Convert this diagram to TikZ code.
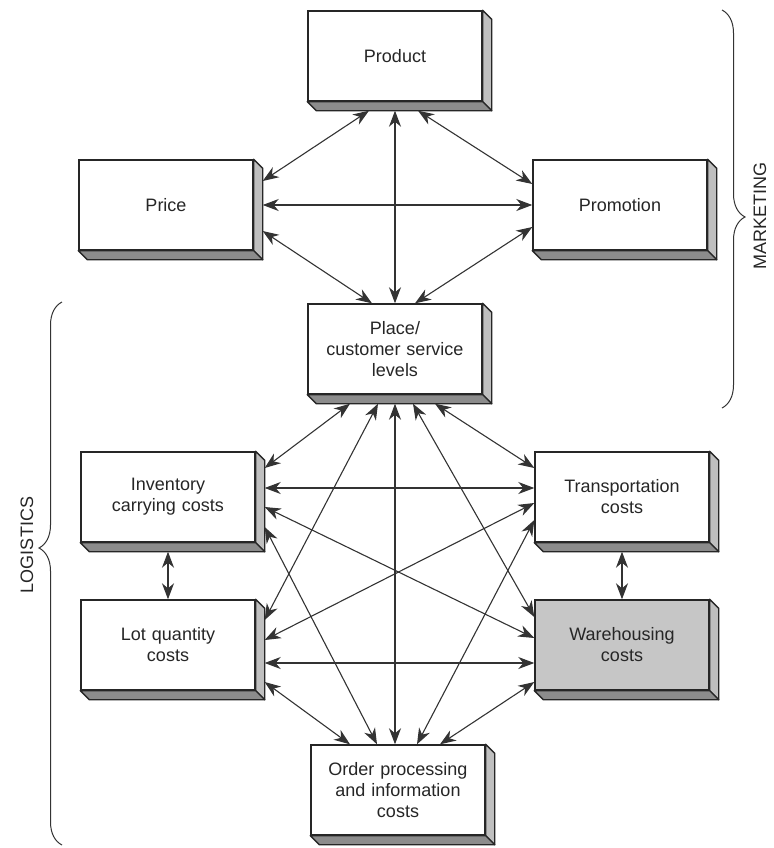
\documentclass[tikz,border=0pt]{standalone}
\usepackage{fontspec}
\setmainfont{Liberation Sans}
\usetikzlibrary{arrows.meta,positioning,calc,decorations.pathreplacing}
\tikzset{
    box/.style={rectangle, draw=black!85, fill=white, minimum width=87pt, minimum height=45pt, text width=80pt, text centered, inner sep=0pt, font=\fontsize{9}{10.5}\selectfont, text=black!85, line width=0.7pt},
    shadedbox/.style={box, fill=gray!45},
    sideface/.style={draw=black!85, fill=gray!50, line width=0.7pt, line join=round},
    bottomface/.style={draw=black!85, fill=gray!90, line width=0.7pt, line join=round},
    line/.style={draw=black!80, {Stealth[length=8pt,width=6pt,inset=2.5pt]}-{Stealth[length=8pt,width=6pt,inset=2.5pt]}, line width=0.55pt},
    bracket/.style={draw=black!80, line width=0.5pt, decorate, decoration={brace, amplitude=11.5pt, aspect=#1}},
    grouplabel/.style={font=\fontsize{9}{10}\selectfont, text=black!85, rotate=90}
}

\begin{document}
\begin{tikzpicture}[x=0.5pt, y=-0.5pt]
    \useasboundingbox (0,0) rectangle (774,848);

    % marketing mix
    \node [box] (product) at (395,56) {Product};
    \node [box] (price) at (166,205) {Price};
    \node [box] (promotion) at (620,205) {Promotion};
    \node [box] (place) at (395,349) {Place/\\customer service\\levels};

    % logistics costs
    \node [box] (inv) at (168,497) {Inventory\\carrying costs};
    \node [box, below of=inv, node distance=74pt] (lot) {Lot quantity\\costs};
    \node [box] (transport) at (622,497) {Transportation\\costs};
    \node [shadedbox, below of=transport, node distance=74pt] (ware) {Warehousing\\costs};
    \node [box] (order) at (398,790) {Order processing\\and information\\costs};

    \foreach \n in {product,price,promotion,place,inv,lot,transport,ware,order} {
        \path [sideface] (\n.north east) -- ++(9,9) -- ($(\n.south east)+(9,9)$) -- (\n.south east) -- cycle;
        \path [bottomface] (\n.south west) -- ++(9,9) -- ($(\n.south east)+(9,9)$) -- (\n.south east) -- cycle;
    }

    \path [line] ($(product.south)+(-26,9)$) -- ($(price.east)+(9,-24)$);
    \path [line] ($(product.south)+(0,9)$) -- (place.north);
    \path [line] ($(product.south)+(23,9)$) -- ($(promotion.west)+(0,-21)$);
    \path [line] ($(price.east)+(9,0)$) -- (promotion.west);
    \path [line] ($(price.east)+(9,26)$) -- ($(place.north)+(-23,0)$);
    \path [line] ($(promotion.west)+(0,22)$) -- ($(place.north)+(20,0)$);

    \path [line] ($(place.south)+(-45,9)$) -- ($(inv.east)+(9,-29)$);
    \path [line] ($(place.south)+(-17,9)$) -- ($(lot.east)+(9,-25)$);
    \path [line] ($(place.south)+(0,9)$) -- ($(order.north)+(-3,0)$);
    \path [line] ($(place.south)+(18,9)$) -- ($(ware.west)+(0,-28)$);
    \path [line] ($(place.south)+(40,9)$) -- ($(transport.west)+(0,-29)$);
    \path [line] ($(inv.east)+(9,-9)$) -- ($(transport.west)+(0,-9)$);
    \path [line] ($(inv.east)+(9,10)$) -- ($(ware.west)+(0,-7)$);
    \path [line] ($(inv.east)+(9,30)$) -- ($(order.north)+(-21,0)$);
    \path [line] ($(inv.south)+(0,9)$) -- (lot.north);
    \path [line] ($(transport.west)+(0,6)$) -- ($(lot.east)+(9,-5)$);
    \path [line] ($(transport.west)+(0,23)$) -- ($(order.north)+(19,0)$);
    \path [line] ($(transport.south)+(0,9)$) -- (ware.north);
    \path [line] ($(lot.east)+(9,18)$) -- ($(ware.west)+(0,18)$);
    \path [line] ($(lot.east)+(9,37)$) -- ($(order.north)+(-48,0)$);
    \path [line] ($(ware.west)+(0,37)$) -- ($(order.north)+(42,0)$);

    % group braces
    \coordinate (mkttop) at (722,10);
    \coordinate (mktbot) at (722,408);
    \coordinate (logtop) at (62,302);
    \coordinate (logbot) at (62,845);
    \path [bracket=0.52] (mkttop) -- (mktbot);
    \path [bracket=0.547] (logbot) -- (logtop);
    \node [grouplabel] (mktlabel) at (760,216) {MARKETING};
    \node [grouplabel] (loglabel) at (27,545) {LOGISTICS};
\end{tikzpicture}
\end{document}
